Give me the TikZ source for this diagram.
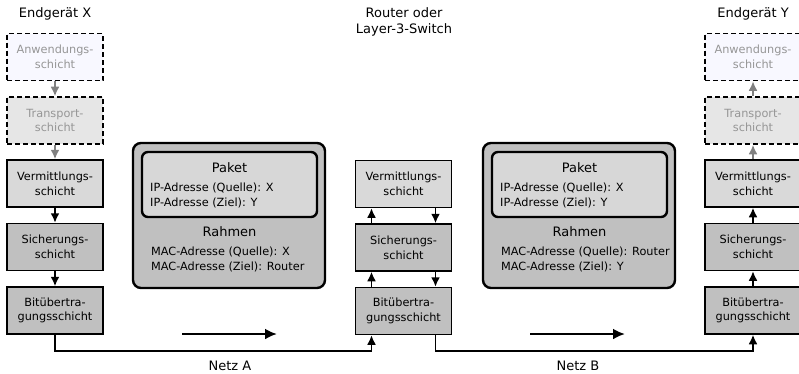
\documentclass[tikz,border=0pt]{standalone}
\usepackage{fontspec}
\setmainfont{DejaVu Sans}
\usetikzlibrary{arrows.meta, calc}

\definecolor{anwfill}{RGB}{248,248,255}
\definecolor{transfill}{RGB}{230,230,230}
\definecolor{vermfill}{RGB}{217,217,217}
\definecolor{lowfill}{RGB}{192,192,192}
\definecolor{paketfill}{RGB}{215,215,215}
\definecolor{greytext}{RGB}{150,150,150}
\definecolor{greyarrow}{RGB}{128,128,128}

\begin{document}
\begin{tikzpicture}[x=1pt, y=-1pt,
        layer/.style={draw, line width=1.5pt, minimum width=96pt, minimum height=47pt,
            inner sep=0pt, align=center, font=\fontsize{11.3}{14.7}\selectfont},
        ghost/.style={layer, dash pattern=on 5pt off 3pt, line width=1.6pt, text=greytext},
        link/.style={line width=1.8pt, -{Latex[length=9.5pt,width=9pt]}},
        richtung/.style={line width=2.4pt, -{Latex[length=12pt,width=11pt]}},
        rahmenline/.style={line width=2.4pt, rounded corners=8pt},
        titel/.style={font=\fontsize{13}{16.5}\selectfont, align=center, inner sep=0pt},
        klein/.style={font=\fontsize{11.3}{14.7}\selectfont, anchor=west, inner sep=0pt}]
        \useasboundingbox (0,0) rectangle (799,373);

        % Endgeraete X and Y
        \foreach \col/\x in {x/55, y/753}
        {
            \node[ghost, fill=anwfill] (\col anw) at (\x,57) {Anwendungs-\\schicht};
            \node[ghost, fill=transfill] (\col trans) at (\x,120.5) {Transport-\\schicht};
            \node[layer, fill=vermfill] (\col verm) at (\x,183.5) {Vermittlungs-\\schicht};
            \node[layer, fill=lowfill] (\col sich) at (\x,247) {Sicherungs-\\schicht};
            \node[layer, fill=lowfill] (\col bit) at (\x,310.5) {Bitübertra-\\gungsschicht};
        }

        % Router
        \node[layer, fill=vermfill] (rverm) at (403.5,184) {Vermittlungs-\\schicht};
        \node[layer, fill=lowfill] (rsich) at (403.5,247.5) {Sicherungs-\\schicht};
        \node[layer, fill=lowfill] (rbit) at (403.5,311) {Bitübertra-\\gungsschicht};

        % Titles
        \node[titel] (titelx) at (55,14) {Endgerät X};
        \node[titel] (titely) at (753,14) {Endgerät Y};
        \node[titel] (titelr) at (404,22) {Router oder\\Layer-3-Switch};

        % Down through X, up through Y
        \draw[link, greyarrow] (xanw) -- (xtrans);
        \draw[link, greyarrow] (xtrans) -- (xverm);
        \draw[link] (xverm) -- (xsich);
        \draw[link] (xsich) -- (xbit);
        \draw[link, greyarrow] (ytrans) -- (yanw);
        \draw[link, greyarrow] (yverm) -- (ytrans);
        \draw[link] (ysich) -- (yverm);
        \draw[link] (ybit) -- (ysich);

        % Up and down in the router
        \draw[link] ([xshift=-32pt]rbit.north) -- ([xshift=-32pt]rsich.south);
        \draw[link] ([xshift=-32pt]rsich.north) -- ([xshift=-32pt]rverm.south);
        \draw[link] ([xshift=32pt]rverm.south) -- ([xshift=32pt]rsich.north);
        \draw[link] ([xshift=32pt]rsich.south) -- ([xshift=32pt]rbit.north);

        % Netze
        \draw[link] (xbit.south) -- ++(0,16) -| ([xshift=-32pt]rbit.south);
        \draw[link] ([xshift=32pt]rbit.south) -- ++(0,16) -| (ybit.south);
        \node[titel] (netza) at (230,366) {Netz A};
        \node[titel] (netzb) at (578,366) {Netz B};

        % Rahmen with Paket
        \foreach \f/\dx/\qmac/\zmac in {a/0/X/Router, b/350/Router/Y}
        {
            \begin{scope}[xshift=\dx pt]
                \draw[rahmenline, fill=lowfill] (133,143) rectangle (325,288);
                \draw[rahmenline, fill=paketfill, rounded corners=6pt] (142,152) rectangle (317,217);
                \node[titel] (paket\f) at (229.5,168) {Paket};
                \node[klein] (ipq\f) at (150,188) {IP-Adresse (Quelle): X};
                \node[klein] (ipz\f) at (150,203) {IP-Adresse (Ziel): Y};
                \node[titel] (rahmen\f) at (229.5,232) {Rahmen};
                \node[klein] (macq\f) at (151,252) {MAC-Adresse (Quelle): \qmac};
                \node[klein] (macz\f) at (151,267) {MAC-Adresse (Ziel): \zmac};
            \end{scope}
        }

        % Direction
        \coordinate (richta0) at (182,334);
        \coordinate (richta1) at (277,334);
        \coordinate (richtb0) at (530,334);
        \coordinate (richtb1) at (625,334);
        \draw[richtung] (richta0) -- (richta1);
        \draw[richtung] (richtb0) -- (richtb1);
    \end{tikzpicture}
\end{document}
